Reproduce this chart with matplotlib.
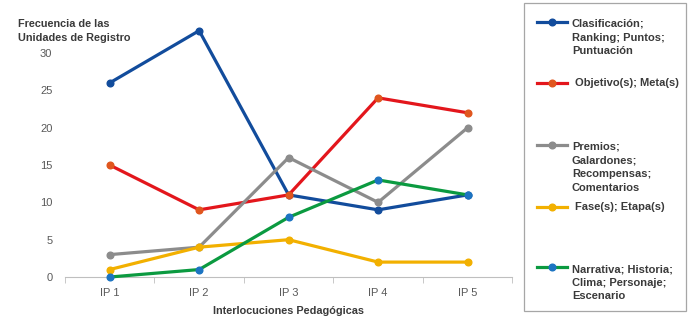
import matplotlib.pyplot as plt
from matplotlib.lines import Line2D
from matplotlib.patches import Rectangle

plt.rcParams['font.family'] = ['Liberation Sans', 'DejaVu Sans']

# datos
categorias = ['IP 1', 'IP 2', 'IP 3', 'IP 4', 'IP 5']
clasificacion = [26, 33, 11, 9, 11]
objetivos = [15, 9, 11, 24, 22]
premios = [3, 4, 16, 10, 20]
fases = [1, 4, 5, 2, 2]
narrativa = [0, 1, 8, 13, 11]

etiquetas = ['Clasificación;\nRanking; Puntos;\nPuntuación',
             'Objetivo(s); Meta(s)',
             'Premios;\nGalardones;\nRecompensas;\nComentarios',
             'Fase(s); Etapa(s)',
             'Narrativa; Historia;\nClima; Personaje;\nEscenario']
series = [clasificacion, objetivos, premios, fases, narrativa]
colores = ['#124C9C', '#E3161C', '#8C8C8C', '#F2B000', '#0B9A40']
marcadores = ['#124C9C', '#E0561E', '#8C8C8C', '#F2B000', '#1C74C2']

gris = '#595959'
oscuro = '#3A3A3A'
fig = plt.figure(figsize=(6.98, 3.21), dpi=100)
ax = fig.add_axes([0.093, 0.137, 0.641, 0.814])

x = range(len(categorias))
for datos, c, m in zip(series, colores, marcadores):
    ax.plot(x, datos, color=c, lw=2.3, marker='o', ms=4.8,
            markerfacecolor=m, markeredgecolor=m, clip_on=False, zorder=3)

ax.set_xlim(-0.5, len(categorias) - 0.5)
ax.set_ylim(0, 35)
ax.set_yticks(range(0, 31, 5))
ax.set_xticks(list(x))
ax.set_xticklabels(categorias)
ax.set_xticks([i - 0.5 for i in range(len(categorias) + 1)], minor=True)
ax.tick_params(axis='x', which='major', length=0, pad=8, labelsize=8, labelcolor=gris)
ax.tick_params(axis='x', which='minor', length=4, color='#BFBFBF', direction='out')
ax.tick_params(axis='y', length=0, pad=9, labelsize=8, labelcolor=gris)
for s in ['top', 'right', 'left']:
    ax.spines[s].set_visible(False)
ax.spines['bottom'].set_color('#BFBFBF')

fig.text(0.026, 1 - 19 / 321, 'Frecuencia de las\nUnidades de Registro', fontsize=7.8,
         fontweight='bold', color=oscuro, va='top', ha='left', linespacing=1.5)
fig.text(0.413, 0.03, 'Interlocuciones Pedagógicas', fontsize=7.8,
         fontweight='bold', color=oscuro, ha='center', va='center')

# leyenda
W, H = 698, 321
fig.patches.append(Rectangle((524 / W, 1 - 311 / H), 162 / W, 308 / H,
                             transform=fig.transFigure, fill=False,
                             edgecolor='#A6A6A6', lw=0.9))
ys = [22, 83, 145, 207, 267]
for lab, c, m, yy in zip(etiquetas, colores, marcadores, ys):
    fy = 1 - yy / H
    fig.lines.append(Line2D([537 / W, 567 / W], [fy, fy], color=c, lw=2.3,
                            transform=fig.transFigure))
    fig.lines.append(Line2D([552 / W], [fy], marker='o', ms=4.8, color=m,
                            transform=fig.transFigure))
    if '\n' in lab:
        fig.text(572 / W, fy + 3 / H, lab, fontsize=8, fontweight='bold',
                 color=oscuro, va='top', ha='left', linespacing=1.45)
    else:
        fig.text(575 / W, fy, lab, fontsize=8, fontweight='bold',
                 color=oscuro, va='center', ha='left')

fig.savefig('out.png', dpi=100)
